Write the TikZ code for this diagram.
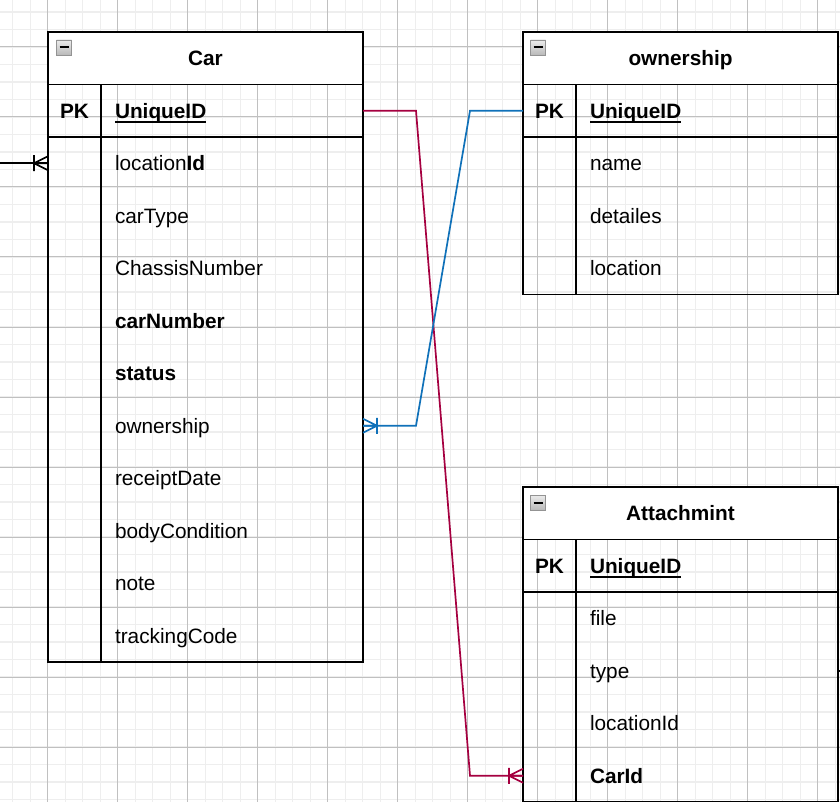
\documentclass[tikz,border=0pt]{standalone}
\usepackage{fontspec}
\setmainfont{Liberation Sans}
\usetikzlibrary{calc,positioning}
\definecolor{erred}{RGB}{165,0,64}
\definecolor{erblue}{RGB}{16,113,185}
\definecolor{gridmin}{RGB}{238,238,238}
\definecolor{gridmaj}{RGB}{192,192,192}
% crow's foot (one or many): point, direction away from the table, colour
\newcommand{\crowfoot}[3]{\draw[#3,line width=1.7pt](#1)++(0,-7)--++({(#2)*14},7)--++({-(#2)*14},7)
	(#1)--++({(#2)*14},0)++(0,-8)--++(0,16);}
% underlined key name
\newcommand{\keyname}[1]{\setbox0\hbox{\textbf{#1}}\rlap{\rule[-4.5pt]{\wd0}{2pt}}\box0}

\begin{document}
\begin{tikzpicture}[x=1pt,y=-1pt,font=\fontsize{20.8}{25}\selectfont,
	every node/.style={outer sep=0pt,text height=15pt,text depth=0pt},
	hdr/.style={draw,line width=1.6pt,fill=white,minimum width=315pt,minimum height=52.5pt,anchor=north west,inner sep=0pt,font=\fontsize{20.8}{25}\selectfont\bfseries},
	keycell/.style={minimum width=53pt,minimum height=52.5pt,anchor=north west,inner sep=0pt,font=\fontsize{20.8}{25}\selectfont\bfseries},
	field/.style={minimum height=52.5pt,anchor=north west,inner xsep=14pt,inner ysep=0pt,text width=234pt,align=left},
	tbl/.style={line width=1.6pt},
	rel/.style={line width=1.7pt},
	minus/.style={draw=gray!85,line width=0.9pt,minimum size=15pt,text height=,text depth=,inner sep=0pt,top color=gray!15,bottom color=gray!55,
		path picture={\draw[black,line width=2pt]($(path picture bounding box.west)+(3pt,0)$)--($(path picture bounding box.east)+(-3pt,0)$);}}]
\useasboundingbox(0,0)rectangle(840,802);
% grid
\foreach \i in {0,...,47}\draw[gridmin,line width=1.3pt]({12.7+17.5*\i},0)--({12.7+17.5*\i},802);
\foreach \i in {0,...,45}\draw[gridmin,line width=1.3pt](0,{12+17.5*\i})--(840,{12+17.5*\i});
\foreach \i in {0,...,11}\draw[gridmaj,line width=1pt]({47.7+70*\i},0)--({47.7+70*\i},802);
\foreach \i in {0,...,10}\draw[gridmaj,line width=1pt](0,{47+70*\i})--(840,{47+70*\i});

% Car
\node[hdr](car)at(48,32){Car};
\node[minus](car-min)at(64,47.5){};
\node[keycell](car-pk)at(48,84.5){PK};
\node[field](car-id)at(101,84.5){\keyname{UniqueID}};
\foreach \f [count=\i] in {location\textbf{Id},carType,ChassisNumber,\textbf{carNumber},\textbf{status},ownership,receiptDate,bodyCondition,note,trackingCode}
	\node[field](car-r\i)at(101,{137+52.5*(\i-1)}){\f};
\draw[tbl](car.south west)rectangle(car-r10.south east)
	(car-pk.north east)--(car-pk.north east|-car-r10.south);
\draw[line width=2pt](car-pk.south west)--(car-id.south east);

% ownership
\node[hdr](own)at(523,32){ownership};
\node[minus](own-min)at(538,47.5){};
\node[keycell](own-pk)at(523,84.5){PK};
\node[field](own-id)at(576,84.5){\keyname{UniqueID}};
\foreach \f [count=\i] in {name,detailes,location}
	\node[field](own-r\i)at(576,{137+52.5*(\i-1)}){\f};
\draw[tbl](own.south west)rectangle(own-r3.south east)
	(own-pk.north east)--(own-pk.north east|-own-r3.south);
\draw[line width=2pt](own-pk.south west)--(own-id.south east);

% Attachmint
\node[hdr](att)at(523,487){Attachmint};
\node[minus](att-min)at(538,502.5){};
\node[keycell](att-pk)at(523,539.5){PK};
\node[field](att-id)at(576,539.5){\keyname{UniqueID}};
\foreach \f [count=\i] in {file,type,locationId,\textbf{CarId}}
	\node[field](att-r\i)at(576,{592+52.5*(\i-1)}){\f};
\draw[tbl](att.south west)rectangle(att-r4.south east)
	(att-pk.north east)--(att-pk.north east|-att-r4.south);
\draw[line width=2pt](att-pk.south west)--(att-id.south east);

% relations
\coordinate(ext)at(0,163.25);
\coordinate(stub)at(840,670.75);
\draw[rel](ext)--(car-r1.west-|car.west);
\crowfoot{car-r1.west-|car.west}{-1}{black}
\draw[rel,erred](car-id.east)--++(53,0)--($(att-r4.west)+(-106,0)$)--(att-r4.west-|att.west);
\crowfoot{att-r4.west-|att.west}{-1}{erred}
\draw[rel,erblue](own-pk.west)--++(-53,0)--($(car-r6.east)+(53,0)$)--(car-r6.east);
\crowfoot{car-r6.east}{1}{erblue}
\draw[rel](att-r2.east)--(stub);
\end{tikzpicture}
\end{document}
